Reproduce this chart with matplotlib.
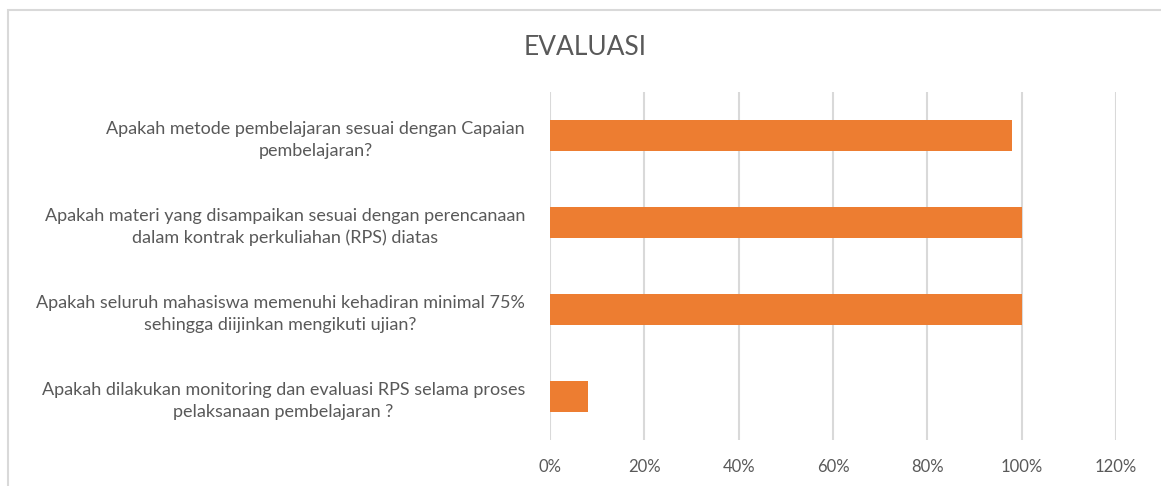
import matplotlib
matplotlib.use("Agg")
from matplotlib import pyplot as plt
from matplotlib.patches import Rectangle
from matplotlib.ticker import PercentFormatter

plt.rcParams['font.family'] = ['Lato', 'DejaVu Sans']

questions = [
  "Apakah metode pembelajaran sesuai dengan Capaian\npembelajaran?",
  "Apakah materi yang disampaikan sesuai dengan perencanaan\ndalam kontrak perkuliahan (RPS) diatas",
  "Apakah seluruh mahasiswa memenuhi kehadiran minimal 75%\nsehingga diijinkan mengikuti ujian?",
  "Apakah dilakukan monitoring dan evaluasi RPS selama proses\npelaksanaan pembelajaran ?",
]
values = [98, 100, 100, 8]
xticks = [0, 20, 40, 60, 80, 100, 120]

text_col = '#595959'
bar_col = '#ED7D31'

fig = plt.figure(figsize=(11.61, 4.86), dpi=100)
ax = fig.add_axes([550/1161, 1-440/486, 566/1161, 348/486])

pos = list(range(len(questions)))
ax.barh(pos, values, height=0.35, color=bar_col, zorder=3)
ax.set_ylim(len(questions)-0.5, -0.5)
ax.set_xlim(0, 120)
ax.set_xticks(xticks)
ax.xaxis.set_major_formatter(PercentFormatter(decimals=0))
ax.set_yticks(pos)
ax.set_yticklabels(questions, multialignment='center', linespacing=1.45)
ax.tick_params(axis='y', length=0, pad=18, labelsize=13, labelcolor=text_col)
ax.tick_params(axis='x', length=0, pad=14, labelsize=12, labelcolor=text_col)
ax.grid(axis='x', color='#D9D9D9', linewidth=1.5, zorder=0)
for s in ax.spines.values():
  s.set_visible(False)

fig.text(585/1161, 1-47/486, "EVALUASI", ha='center', va='center', fontsize=19, color=text_col)
fig.patches.append(Rectangle((8/1161, -0.1), 1.2, 1-10/486+0.1, transform=fig.transFigure,
                             fill=False, edgecolor='#D9D9D9', linewidth=1.5, figure=fig))

fig.savefig("out.png", dpi=100)
